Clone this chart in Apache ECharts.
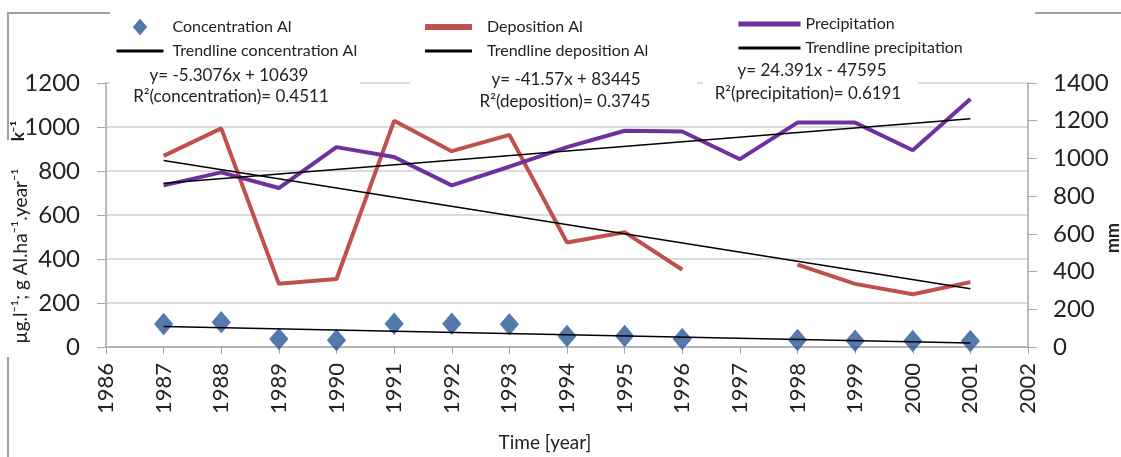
<!DOCTYPE html>
<html>
<head>
<meta charset="utf-8">
<script src="https://cdn.jsdelivr.net/npm/echarts@6/dist/echarts.min.js"></script>
<style>
  html, body { margin: 0; padding: 0; background: #fff; }
  #chart { width: 1121px; height: 457px; }
</style>
</head>
<body>
<div id="chart"></div>
<script>
// values, 1997 has no concentration / deposition value
const years = [1987, 1988, 1989, 1990, 1991, 1992, 1993, 1994, 1995, 1996, 1997, 1998, 1999, 2000, 2001];
const concentration = [104, 112, 36, 31, 106, 106, 103, 50, 50, 36, null, 32, 28, 27, 27];
const deposition = [869, 994, 287, 309, 1028, 890, 964, 475, 522, 351, null, 374, 287, 240, 295];
const precipitation = [857, 926, 843, 1060, 1008, 857, 956, 1060, 1147, 1143, 996, 1190, 1190, 1043, 1315];

// trendline end points
const trendYears = [1987, 2001];
const concTrend = [93, 18];
const depTrend = [848, 265];
const precTrend = [868, 1210];

const leftTicks = { min: 0, max: 1200, interval: 200 };
const rightTicks = { min: 0, max: 1400, interval: 200 };

const font = 'Lato';
const grey = '#a6a6a6';

function pairs(xs, ys) {
  return xs.map((x, i) => [x, ys[i]]);
}

// legend entry for a line series, without the dot in the middle
function lineItem(name, width) {
  return { name: name, lineStyle: { width: width }, itemStyle: { opacity: 0, borderWidth: 0 } };
}

function legendText(pad) {
  return { fontFamily: font, fontSize: 16, color: '#222', lineHeight: 18, padding: [0, 0, 0, pad] };
}

var dom = document.getElementById('chart');
var myChart = echarts.init(dom);

var option = {
  animation: false,
  textStyle: { fontFamily: font },
  grid: { left: 106, right: 93, top: 83, bottom: 105 },
  legend: [
    {
      left: 110, top: 13, orient: 'vertical',
      itemWidth: 47, itemHeight: 14, itemGap: 6, selectedMode: false,
      textStyle: legendText(4),
      data: [
        { name: 'Concentration Al', icon: 'path://M6,0L12,7L6,14L0,7Z' },
        lineItem('Trendline concentration Al', 3)
      ]
    },
    {
      left: 417, top: 13, orient: 'vertical',
      itemWidth: 47, itemHeight: 14, itemGap: 6, selectedMode: false,
      textStyle: legendText(10),
      data: [
        lineItem('Deposition Al', 6),
        lineItem('Trendline deposition Al', 3)
      ]
    },
    {
      left: 731, top: 10, orient: 'vertical',
      itemWidth: 62, itemHeight: 14, itemGap: 6, selectedMode: false,
      textStyle: legendText(0),
      data: [
        lineItem('Precipitation', 5),
        lineItem('Trendline precipitation', 3)
      ]
    }
  ],
  xAxis: {
    type: 'value',
    min: 1986, max: 2002, interval: 1,
    name: 'Time [year]',
    nameLocation: 'middle',
    nameGap: 86,
    nameTextStyle: { fontFamily: font, fontSize: 19, color: '#222', padding: [0, 44, 0, 0] },
    axisLine: { show: true, lineStyle: { color: grey, width: 1.5 } },
    axisTick: { show: true, length: 7, lineStyle: { color: grey } },
    axisLabel: { rotate: 90, fontSize: 22, color: '#222', margin: 16, formatter: v => String(v) },
    splitLine: { show: false }
  },
  yAxis: [
    {
      type: 'value',
      min: leftTicks.min, max: leftTicks.max, interval: leftTicks.interval,
      axisLine: { show: true, lineStyle: { color: grey, width: 1.5 } },
      axisTick: { show: true, length: 9, lineStyle: { color: grey } },
      axisLabel: { fontSize: 24, color: '#222', margin: 26, formatter: v => String(v) },
      splitLine: { show: true, lineStyle: { color: '#d0d0d0', width: 1.5 } }
    },
    {
      type: 'value',
      position: 'right',
      min: rightTicks.min, max: rightTicks.max, interval: rightTicks.interval,
      axisLine: { show: true, lineStyle: { color: grey, width: 1.5 } },
      axisTick: { show: true, length: 9, lineStyle: { color: grey } },
      axisLabel: { fontSize: 24, color: '#222', margin: 25, formatter: v => String(v) },
      splitLine: { show: false }
    }
  ],
  series: [
    {
      name: 'Concentration Al',
      type: 'scatter',
      symbol: 'diamond',
      symbolSize: [18, 21],
      symbolKeepAspect: true,
      itemStyle: { color: '#2a5894', borderColor: '#3f6fae', borderWidth: 1 },
      data: pairs(years, concentration).filter(p => p[1] != null),
      z: 3
    },
    {
      name: 'Deposition Al',
      type: 'line',
      symbol: 'none',
      connectNulls: false,
      lineStyle: { color: '#c0504d', width: 4 },
      itemStyle: { color: '#c0504d' },
      data: pairs(years, deposition)
    },
    {
      name: 'Precipitation',
      type: 'line',
      yAxisIndex: 1,
      symbol: 'none',
      lineStyle: { color: '#7030a0', width: 4 },
      itemStyle: { color: '#7030a0' },
      data: pairs(years, precipitation)
    },
    {
      name: 'Trendline concentration Al',
      type: 'line',
      symbol: 'none',
      lineStyle: { color: '#000', width: 1.5 },
      itemStyle: { color: '#000' },
      data: pairs(trendYears, concTrend),
      z: 4
    },
    {
      name: 'Trendline deposition Al',
      type: 'line',
      symbol: 'none',
      lineStyle: { color: '#000', width: 1.5 },
      itemStyle: { color: '#000' },
      data: pairs(trendYears, depTrend),
      z: 4
    },
    {
      name: 'Trendline precipitation',
      type: 'line',
      yAxisIndex: 1,
      symbol: 'none',
      lineStyle: { color: '#000', width: 1.5 },
      itemStyle: { color: '#000' },
      data: pairs(trendYears, precTrend),
      z: 4
    }
  ],
  graphic: [
    // picture frame pieces
    { type: 'polyline', z: 1, shape: { points: [[8, 140], [8, 13], [110, 13]] }, style: { stroke: '#a0a0a0', lineWidth: 2, fill: null } },
    { type: 'line', z: 1, shape: { x1: 8, y1: 357, x2: 8, y2: 457 }, style: { stroke: '#a0a0a0', lineWidth: 2 } },
    { type: 'line', z: 1, shape: { x1: 1035, y1: 13, x2: 1121, y2: 13 }, style: { stroke: '#a0a0a0', lineWidth: 2 } },
    // boxes behind the equations
    { type: 'rect', z: 1, shape: { x: 110, y: 62, width: 250, height: 46 }, style: { fill: '#fff' } },
    { type: 'rect', z: 1, shape: { x: 410, y: 68, width: 287, height: 46 }, style: { fill: '#fff' } },
    { type: 'rect', z: 1, shape: { x: 703, y: 58, width: 215, height: 48 }, style: { fill: '#fff' } },
    // equations
    { type: 'text', z: 5, x: 229, y: 76, style: { text: 'y= -5.3076x + 10639', font: '17px Lato', fill: '#222', textAlign: 'center', textVerticalAlign: 'middle' } },
    { type: 'text', z: 5, x: 231, y: 97, style: { text: 'R²(concentration)= 0.4511', font: '17px Lato', fill: '#222', textAlign: 'center', textVerticalAlign: 'middle' } },
    { type: 'text', z: 5, x: 566, y: 80, style: { text: 'y= -41.57x + 83445', font: '17px Lato', fill: '#222', textAlign: 'center', textVerticalAlign: 'middle' } },
    { type: 'text', z: 5, x: 565, y: 102, style: { text: 'R²(deposition)= 0.3745', font: '17px Lato', fill: '#222', textAlign: 'center', textVerticalAlign: 'middle' } },
    { type: 'text', z: 5, x: 812, y: 71, style: { text: 'y= 24.391x - 47595', font: '17px Lato', fill: '#222', textAlign: 'center', textVerticalAlign: 'middle' } },
    { type: 'text', z: 5, x: 808, y: 94, style: { text: 'R²(precipitation)= 0.6191', font: '17px Lato', fill: '#222', textAlign: 'center', textVerticalAlign: 'middle' } },
    // axis names
    { type: 'text', z: 5, x: 21, y: 256, rotation: Math.PI / 2, style: { text: 'µg.l⁻¹; g Al.ha⁻¹.year⁻¹', font: '19px Lato', fill: '#222', textAlign: 'center', textVerticalAlign: 'middle' } },
    { type: 'text', z: 5, x: 19, y: 131, rotation: Math.PI / 2, style: { text: 'k⁻¹', font: 'bold 17px Lato', fill: '#222', textAlign: 'center', textVerticalAlign: 'middle' } },
    { type: 'text', z: 5, x: 1113, y: 238, rotation: Math.PI / 2, style: { text: 'mm', font: 'bold 18px Lato', fill: '#222', textAlign: 'center', textVerticalAlign: 'middle' } }
  ]
};

if (option && typeof option === 'object') {
  myChart.setOption(option);
}
</script>
</body>
</html>
